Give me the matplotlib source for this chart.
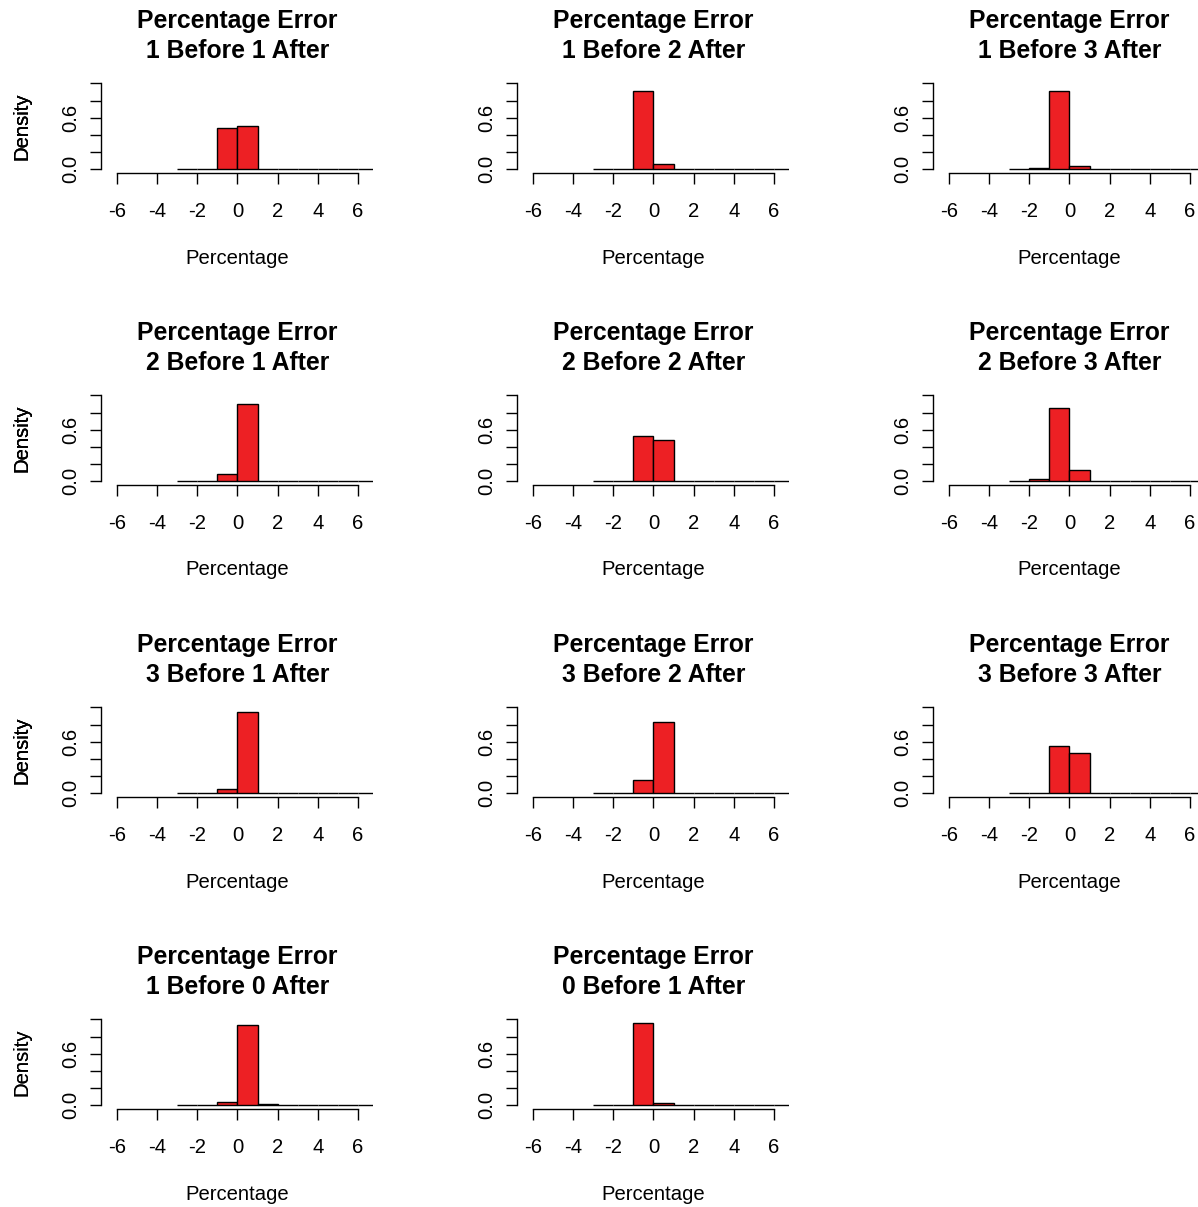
import matplotlib
matplotlib.use("Agg")
import matplotlib.pyplot as plt

# ---- data ----
bin_edges = [-3, -2, -1, 0, 1, 2, 3, 4, 5, 6, 7]
panel_titles = [
    "1 Before 1 After", "1 Before 2 After", "1 Before 3 After",
    "2 Before 1 After", "2 Before 2 After", "2 Before 3 After",
    "3 Before 1 After", "3 Before 2 After", "3 Before 3 After",
    "1 Before 0 After", "0 Before 1 After",
]
dens_1_1 = [0, 0, 0.48, 0.50, 0, 0, 0, 0, 0, 0]
dens_1_2 = [0, 0, 0.915, 0.062, 0, 0, 0, 0, 0, 0]
dens_1_3 = [0, 0.02, 0.915, 0.038, 0, 0, 0, 0, 0, 0]
dens_2_1 = [0, 0, 0.085, 0.895, 0, 0, 0, 0, 0, 0]
dens_2_2 = [0, 0, 0.523, 0.48, 0, 0, 0, 0, 0, 0]
dens_2_3 = [0, 0.027, 0.852, 0.131, 0, 0, 0, 0, 0, 0]
dens_3_1 = [0, 0, 0.05, 0.94, 0, 0, 0, 0, 0, 0]
dens_3_2 = [0, 0, 0.158, 0.83, 0, 0, 0, 0, 0, 0]
dens_3_3 = [0, 0, 0.547, 0.465, 0, 0, 0, 0, 0, 0]
dens_1_0 = [0, 0, 0.038, 0.93, 0.015, 0, 0, 0, 0, 0]
dens_0_1 = [0, 0, 0.96, 0.027, 0, 0, 0, 0, 0, 0]
all_dens = [dens_1_1, dens_1_2, dens_1_3, dens_2_1, dens_2_2, dens_2_3,
            dens_3_1, dens_3_2, dens_3_3, dens_1_0, dens_0_1]
x_ticks = [-6, -4, -2, 0, 2, 4, 6]
x_ticklabels = ["-6", "-4", "-2", "0", "2", "4", "6"]
y_ticks = [0.0, 0.2, 0.4, 0.6, 0.8, 1.0]
y_ticklabels = ["0.0", "", "", "0.6", "", ""]

# ---- style ----
plt.rcParams['font.family'] = ['Liberation Sans', 'DejaVu Sans']
W, H = 1198, 1207
fig = plt.figure(figsize=(W / 100, H / 100), dpi=100)
fs = 14.6
tfs = 17.8
red = '#ED2024'

XL, XR = -6.81, 6.75
for i, (title, dens) in enumerate(zip(panel_titles, all_dens)):
    r, c = divmod(i, 3)
    L = 100.7 + c * 416.0
    Rr = L + 272.3
    B = 172.7 + r * 312
    T = 79.9 + r * 312
    ax = fig.add_axes([L / W, 1 - B / H, (Rr - L) / W, (B - T) / H])
    lefts = bin_edges[:-1]
    widths = [b - a for a, b in zip(bin_edges[:-1], bin_edges[1:])]
    ax.bar(lefts, dens, width=widths, align='edge', color=red,
           edgecolor='black', linewidth=1.0)
    ax.set_xlim(XL, XR)
    ax.set_ylim(-0.04, 1.04)
    for s in ['top', 'right']:
        ax.spines[s].set_visible(False)
    ax.spines['left'].set_bounds(0, 1)
    ax.spines['bottom'].set_bounds(-6, 6)
    for s in ['left', 'bottom']:
        ax.spines[s].set_linewidth(1.0)
    ax.set_xticks(x_ticks)
    ax.set_xticklabels(x_ticklabels, fontsize=fs)
    ax.set_yticks(y_ticks)
    ax.set_yticklabels(y_ticklabels, fontsize=fs, rotation=90, va='center')
    ax.tick_params(axis='x', length=7.7, width=1.0, pad=13.3)
    ax.tick_params(axis='y', length=7.7, width=1.0, pad=7.0)
    ax.set_xlabel("Percentage", fontsize=fs)
    ax.xaxis.set_label_coords(0.5, (172.7 - 263.5) / 92.8)
    ax.xaxis.label.set_va('baseline')
    ax.set_ylabel("Density", fontsize=fs)
    ax.yaxis.set_label_coords((21.7 - L) / 272.3, 0.5)
    ax.yaxis.label.set_va('center')
    cx = L + (0 - XL) / (XR - XL) * 272.3
    fig.text(cx / W, 1 - (28.3 + r * 312) / H, "Percentage Error",
             fontsize=tfs, fontweight='bold', ha='center', va='baseline')
    fig.text(cx / W, 1 - (58.3 + r * 312) / H, title,
             fontsize=tfs, fontweight='bold', ha='center', va='baseline')

fig.savefig("out.png", dpi=100)
